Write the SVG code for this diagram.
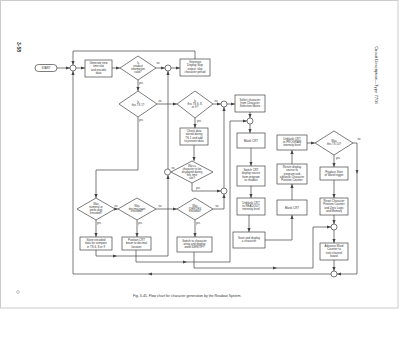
<svg xmlns="http://www.w3.org/2000/svg" width="400" height="339" viewBox="0 0 400 339">
<style>
.b{fill:#fff;stroke:#444;stroke-width:0.7}
.c{fill:#fff;stroke:#444;stroke-width:0.7}
.l{fill:none;stroke:#444;stroke-width:0.7}
.a{marker-end:url(#ah)}
text{font-family:"Liberation Sans",Arial,sans-serif;fill:#333}
.t{font-size:2.9px;text-anchor:middle}
.d{font-size:2.8px;text-anchor:middle}
.y{font-size:2.6px;text-anchor:middle}
.ma{fill:#444}
</style>
<defs>
<marker id="ah" markerUnits="userSpaceOnUse" markerWidth="4" markerHeight="4" viewBox="0 0 4 4" refX="4" refY="2" orient="auto">
<path d="M0,0.4 L4,2 L0,3.6 Z" fill="#444"/>
</marker>
</defs>
<rect x="0.5" y="0.5" width="397.5" height="307.5" fill="#fff" stroke="#ccc" stroke-width="1"/>
<text x="17" y="47" font-size="5" font-weight="bold" text-anchor="middle" transform="rotate(90 17 47)">3-58</text>
<text x="375" y="75" font-size="4.2" text-anchor="middle" transform="rotate(90 375 75)">Circuit Description—Type 7704</text>
<circle cx="18" cy="292" r="1.4" fill="none" stroke="#888" stroke-width="0.5"/>
<text x="133" y="297" font-size="3.5">Fig. 3-45.  Flow chart for character generation by the Readout System.</text>

<g id="connectors">
<path class="l a" d="M57,68 H70"/>
<path class="l a" d="M76,68 H85"/>
<path class="l a" d="M112,68 H120"/>
<path class="l a" d="M156,68 H165"/>
<path class="l a" d="M171,68 H180"/>
<path class="l a" d="M195,59 V51 H73 V65"/>
<path class="l a" d="M138,80 V91"/>
<path class="l a" d="M157,104 H177"/>
<path class="l a" d="M213,104 H221"/>
<path class="l a" d="M227,104 H235"/>
<path class="l a" d="M250,112 V118"/>
<path class="l a" d="M250,124 V133"/>
<path class="l a" d="M251,148 V166"/>
<path class="l a" d="M251,186 V198"/>
<path class="l a" d="M249,215 V232"/>
<path class="l a" d="M265,240 H292 V215"/>
<path class="l a" d="M292,200 V184"/>
<path class="l a" d="M292,164 V150"/>
<path class="l a" d="M307,143 H315"/>
<path class="l a" d="M353,143 H357 V274 H337"/>
<path class="l a" d="M334,155 V167"/>
<path class="l a" d="M334,180 V198"/>
<path class="l a" d="M334,215 V224"/>
<path class="l a" d="M334,230 V243"/>
<path class="l a" d="M334,260 V271"/>
<path class="l a" d="M331,274 H73 V71"/>
<path class="l a" d="M195,118 V128"/>
<path class="l a" d="M194,145 V161"/>
<path class="l a" d="M168,169 V71"/>
<path class="l a" d="M192,183 V191 H221"/>
<path class="l a" d="M224,188 V107"/>
<path class="l a" d="M213,209 H224 V194"/>
<path class="l a" d="M138,117 V170 H96 V198"/>
<path class="l a" d="M115,209 H118"/>
<path class="l a" d="M156,209 H177"/>
<path class="l a" d="M96,220 V237"/>
<path class="l a" d="M137,220 V237"/>
<path class="l a" d="M195,220 V237"/>
<path class="l a" d="M96,250 V256 H168 V175"/>
<path class="l a" d="M136,250 V262 H230 V121 H247"/>
<path class="l a" d="M194,252 V268 H313 V227 H331"/>
<path class="ma" d="M152,272.6 L148,274 L152,275.4 Z"/>
<path class="ma" d="M113,254.6 L117,256 L113,257.4 Z"/>
<path class="ma" d="M183,260.6 L187,262 L183,263.4 Z"/>
<path class="ma" d="M273,266.6 L277,268 L273,269.4 Z"/>
<path class="ma" d="M355.6,170 L357,174 L358.4,170 Z"/>
<text class="y" x="158" y="64">no</text>
<text class="y" x="141" y="84">yes</text>
<text class="y" x="160" y="102">no</text>
<text class="y" x="216" y="102">no</text>
<text class="y" x="199" y="122">yes</text>
<text class="y" x="141" y="121">yes</text>
<text class="y" x="173" y="169">no</text>
<text class="y" x="198" y="189">yes</text>
<text class="y" x="359" y="140">no</text>
<text class="y" x="338" y="159">yes</text>
<text class="y" x="116" y="207">no</text>
<text class="y" x="160" y="207">no</text>
<text class="y" x="217" y="207">no</text>
<text class="y" x="99" y="224">yes</text>
<text class="y" x="140" y="224">yes</text>
<text class="y" x="198" y="224">yes</text>
</g>

<g id="start"><rect class="b" x="35" y="64.5" width="22" height="7" rx="3.5"/><text class="t" x="46" y="69.1">START</text></g>
<g id="c1"><circle class="c" cx="73" cy="68" r="3"/></g>
<g id="c2"><circle class="c" cx="168" cy="68" r="3"/></g>
<g id="c3"><circle class="c" cx="224" cy="104" r="3"/></g>
<g id="c4"><circle class="c" cx="250" cy="121" r="3"/></g>
<g id="c5"><circle class="c" cx="167.5" cy="172" r="3"/></g>
<g id="c6"><circle class="c" cx="224" cy="191" r="3"/></g>
<g id="c7"><circle class="c" cx="334" cy="227" r="3"/></g>
<g id="c8"><circle class="c" cx="334" cy="274" r="3"/></g>

<g id="b1"><rect class="b" x="85" y="60" width="27" height="17"/><text class="t" x="98.5" y="64">Generate new<tspan x="98.5" dy="3.4">time slot</tspan><tspan x="98.5" dy="3.4">and encode</tspan><tspan x="98.5" dy="3.4">data</tspan></text></g>
<g id="b2"><rect class="b" x="180" y="59" width="30" height="17"/><text class="t" x="195" y="63">Generate<tspan x="195" dy="3.4">Display Skip</tspan><tspan x="195" dy="3.4">output; skip</tspan><tspan x="195" dy="3.4">character period</tspan></text></g>
<g id="b3"><rect class="b" x="235" y="95" width="30" height="17"/><text class="t" x="250" y="100.5">Select character<tspan x="250" dy="3.4">from Character</tspan><tspan x="250" dy="3.4">Selection Matrix</tspan></text></g>
<g id="b4"><rect class="b" x="180" y="128" width="28" height="17"/><text class="t" x="194" y="132">Check data<tspan x="194" dy="3.4">stored during</tspan><tspan x="194" dy="3.4">TS 1 and add</tspan><tspan x="194" dy="3.4">to present data</tspan></text></g>
<g id="b5"><rect class="b" x="237" y="133" width="28" height="15"/><text class="t" x="251" y="141.5">Blank CRT</text></g>
<g id="b6"><rect class="b" x="237" y="166" width="28" height="20"/><text class="t" x="251" y="171">Switch CRT<tspan x="251" dy="3.4">display source</tspan><tspan x="251" dy="3.4">from program</tspan><tspan x="251" dy="3.4">to readout</tspan></text></g>
<g id="b7"><rect class="b" x="237" y="198" width="28" height="17"/><text class="t" x="251" y="203.5">Unblank CRT<tspan x="251" dy="3.4">to READOUT</tspan><tspan x="251" dy="3.4">intensity level</tspan></text></g>
<g id="b8"><rect class="b" x="233" y="232" width="32" height="16"/><text class="t" x="249" y="239">Scan and display<tspan x="249" dy="3.4">a character</tspan></text></g>
<g id="b9"><rect class="b" x="277" y="135" width="30" height="15"/><text class="t" x="292" y="139.5">Unblank CRT<tspan x="292" dy="3.4">to PROGRAM</tspan><tspan x="292" dy="3.4">intensity level</tspan></text></g>
<g id="b10"><rect class="b" x="277" y="164" width="30" height="20"/><text class="t" x="292" y="168">Return display<tspan x="292" dy="3.3">source to</tspan><tspan x="292" dy="3.3">program and</tspan><tspan x="292" dy="3.3">advance Character</tspan><tspan x="292" dy="3.3">Position Counter</tspan></text></g>
<g id="b11"><rect class="b" x="277" y="200" width="30" height="15"/><text class="t" x="292" y="208.5">Blank CRT</text></g>
<g id="b12"><rect class="b" x="320" y="167" width="28" height="13"/><text class="t" x="334" y="172.5">Produce Start<tspan x="334" dy="3.4">of Word trigger</tspan></text></g>
<g id="b13"><rect class="b" x="320" y="198" width="28" height="17"/><text class="t" x="334" y="202">Reset Character<tspan x="334" dy="3.4">Position Counter</tspan><tspan x="334" dy="3.4">and Zero Logic</tspan><tspan x="334" dy="3.4">and Memory</tspan></text></g>
<g id="b14"><rect class="b" x="320" y="243" width="28" height="17"/><text class="t" x="334" y="247">Advance Word<tspan x="334" dy="3.4">Counter to</tspan><tspan x="334" dy="3.4">next channel</tspan><tspan x="334" dy="3.4">board</tspan></text></g>
<g id="b15"><rect class="b" x="80" y="237" width="32" height="13"/><text class="t" x="96" y="241">Store encoded<tspan x="96" dy="3.4">data for compare</tspan><tspan x="96" dy="3.4">in TS 6, 8 or 9</tspan></text></g>
<g id="b16"><rect class="b" x="122" y="237" width="29" height="13"/><text class="t" x="136.5" y="241">Position CRT<tspan x="136.5" dy="3.4">beam to decimal</tspan><tspan x="136.5" dy="3.4">location</tspan></text></g>
<g id="b17"><rect class="b" x="177" y="237" width="35" height="15"/><text class="t" x="194.5" y="241.5">Switch to character<tspan x="194.5" dy="3.4">array and display</tspan><tspan x="194.5" dy="3.4">word IDENTIFY</tspan></text></g>

<g id="d1"><path class="b" d="M138,56 L156,68 L138,80 L120,68 Z"/><text class="d" x="138" y="63.6">Is<tspan x="138" dy="3">readout</tspan><tspan x="138" dy="3">information</tspan><tspan x="138" dy="3">valid?</tspan></text></g>
<g id="d2"><path class="b" d="M138,91 L157,104 L138,117 L119,104 Z"/><text class="d" x="138" y="103">Is<tspan x="138" dy="3">this TS 1?</tspan></text></g>
<g id="d3"><path class="b" d="M195,91 L213,104 L195,118 L177,104 Z"/><text class="d" x="195" y="101.8">Is<tspan x="195" dy="3">this TS 6, 8,</tspan><tspan x="195" dy="3">or 9?</tspan></text></g>
<g id="d4"><path class="b" d="M192,161 L213,172 L192,183 L171,172 Z"/><text class="d" x="192" y="167">Was a<tspan x="192" dy="2.9">character to be</tspan><tspan x="192" dy="2.9">displayed during</tspan><tspan x="192" dy="2.9">this time</tspan><tspan x="192" dy="2.9">slot?</tspan></text></g>
<g id="d5"><path class="b" d="M334,131 L353,143 L334,155 L315,143 Z"/><text class="d" x="334" y="142">Was<tspan x="334" dy="3">this TS 10?</tspan></text></g>
<g id="d6"><path class="b" d="M96,198 L115,209 L96,220 L77,209 Z"/><text class="d" x="96" y="205.2">Was<tspan x="96" dy="2.9">numeral or</tspan><tspan x="96" dy="2.9">prefix digit</tspan><tspan x="96" dy="2.9">encoded?</tspan></text></g>
<g id="d7"><path class="b" d="M137,198 L156,209 L137,220 L118,209 Z"/><text class="d" x="137" y="206.6">Was<tspan x="137" dy="2.9">decimal point</tspan><tspan x="137" dy="2.9">encoded?</tspan></text></g>
<g id="d8"><path class="b" d="M195,198 L213,209 L195,220 L177,209 Z"/><text class="d" x="195" y="206.6">Was<tspan x="195" dy="2.9">IDENTIFY</tspan><tspan x="195" dy="2.9">encoded?</tspan></text></g>
</svg>
